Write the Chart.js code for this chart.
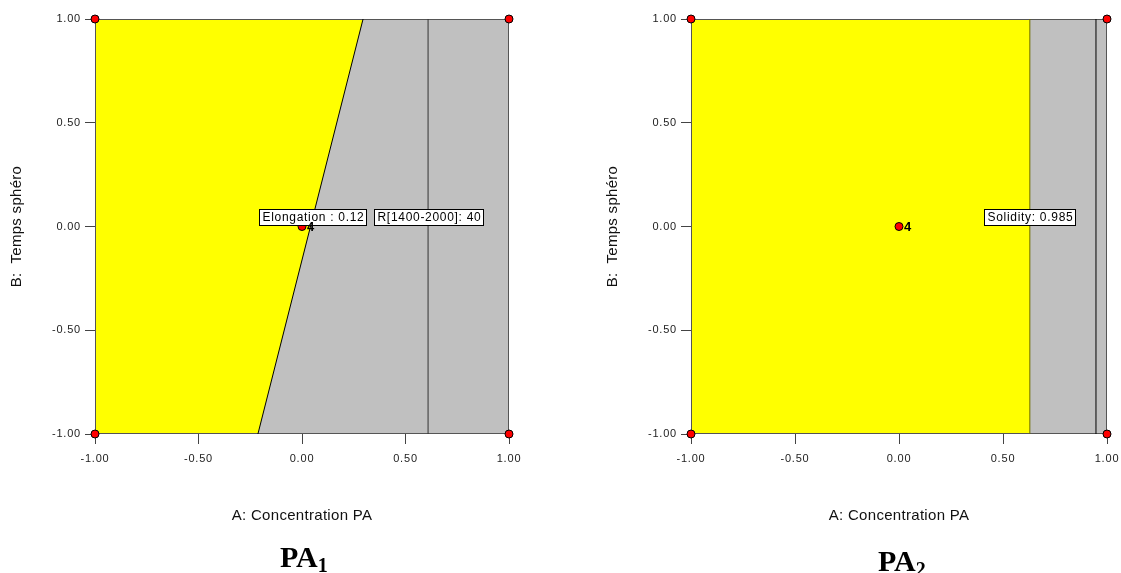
<!DOCTYPE html>
<html>
<head>
<meta charset="utf-8">
<script src="https://cdn.jsdelivr.net/npm/chart.js@4.4.1/dist/chart.umd.min.js"></script>
<style>
  body { margin: 0; background: #fff; width: 1121px; height: 573px; position: relative; overflow: hidden; }
  .box { position: absolute; top: 0; height: 573px; }
  .cap { position: absolute; font-family: "Liberation Serif", "Times New Roman", serif; font-weight: bold; font-size: 30px; line-height: 30px; color: #000; }
  .cap sub { font-size: 20px; vertical-align: -5px; }
</style>
</head>
<body>
<div class="box" style="left:0;width:560px"><canvas id="pa1Chart"></canvas></div>
<div class="box" style="left:596px;width:525px"><canvas id="pa2Chart"></canvas></div>
<div class="cap" style="left:280px;top:542px">PA<sub>1</sub></div>
<div class="cap" style="left:878px;top:546px">PA<sub>2</sub></div>
<script>
// shared design
const xTicks = [-1, -0.5, 0, 0.5, 1];
const yTicks = [-1, -0.5, 0, 0.5, 1];
const designX = [-1, -1, 1, 1, 0];
const designY = [-1, 1, -1, 1, 0];
const centerLabel = "4";

// PA1 contours
const pa1EdgeX = [-0.213, 0.295];
const pa1EdgeY = [-1, 1];
const pa1LineX = [0.609, 0.609];
const pa1LabelText = ["Elongation : 0.12", "R[1400-2000]: 40"];
const pa1LabelX = [0.05, 0.609];
const pa1LabelY = [0.047, 0.047];

// PA2 contours
const pa2EdgeX = [0.629, 0.629];
const pa2LineX = [0.947, 0.947];
const pa2LabelText = ["Solidity: 0.985"];
const pa2LabelX = [0.629];
const pa2LabelY = [0.045];

const FONT = "'Liberation Sans', Arial, sans-serif";

function pts(xs, ys) {
  return xs.map((v, i) => ({ x: v, y: ys[i] }));
}

function axes() {
  return {
    x: {
      type: "linear", min: -1, max: 1,
      afterBuildTicks: s => { s.ticks = xTicks.map(v => ({ value: v })); },
      // fixed height, and let the end labels hang over the padding
      afterFit: s => { s.height = 91; s.paddingLeft = 0; s.paddingRight = 0; },
      grid: { drawOnChartArea: false, tickLength: 10, color: "#444" },
      border: { display: false },
      ticks: { z: 1, autoSkip: false, maxRotation: 0, padding: 8, color: "#222", font: { family: FONT, size: 11 }, callback: v => v.toFixed(2) },
      title: { display: true, text: "A: Concentration PA", color: "#111", font: { family: FONT, size: 15 }, padding: 0 }
    },
    y: {
      type: "linear", min: -1, max: 1,
      afterBuildTicks: s => { s.ticks = yTicks.map(v => ({ value: v })); },
      afterFit: s => { s.width = 87; },
      grid: { drawOnChartArea: false, tickLength: 10, color: "#444" },
      border: { display: false },
      ticks: { z: 1, autoSkip: false, padding: 4, color: "#222", font: { family: FONT, size: 11 }, callback: v => v.toFixed(2) },
      title: { display: true, text: "B:  Temps sphéro", color: "#111", font: { family: FONT, size: 15 }, padding: 0 }
    }
  };
}

// frame after the region fills, labels on top of everything.
// the old plot program spaces its letters a little: titles are drawn with the grid,
// tick labels (z: 1) after this plugin's afterDatasetsDraw
const decor = {
  id: "decor",
  beforeLayout(chart) { chart.ctx.letterSpacing = "1px"; },
  beforeDraw(chart) { chart.ctx.letterSpacing = "0.3px"; },
  afterDatasetDraw(chart, args) {
    if (args.index !== 1) return;
    const { ctx, chartArea: a } = chart;
    ctx.save();
    ctx.strokeStyle = "#555";
    ctx.lineWidth = 1;
    ctx.strokeRect(a.left + 0.5, a.top + 0.5, a.right - a.left - 1, a.bottom - a.top - 1);
    ctx.restore();
  },
  afterDatasetsDraw(chart) {
    const { ctx, scales: { x, y } } = chart;
    const o = chart.options.plugins.decor;
    ctx.save();
    ctx.letterSpacing = "0.7px";
    ctx.font = "12px " + FONT;
    ctx.textBaseline = "middle";
    o.texts.forEach((t, i) => {
      const w = Math.round(ctx.measureText(t).width + 5);
      const cx = x.getPixelForValue(o.xs[i]);
      const cy = y.getPixelForValue(o.ys[i]);
      const l = Math.round(cx - w / 2) + 0.5;
      const tp = Math.round(cy - 8) + 0.5;
      ctx.fillStyle = "#fff";
      ctx.fillRect(l, tp, w, 16);
      ctx.strokeStyle = "#000";
      ctx.strokeRect(l, tp, w, 16);
      ctx.fillStyle = "#000";
      ctx.textAlign = "left";
      ctx.fillText(t, l + 3, cy + 1);
    });
    // run count next to the centre point
    ctx.font = "bold 13px " + FONT;
    ctx.fillText(centerLabel, x.getPixelForValue(0) + 5, y.getPixelForValue(0) + 1);
    ctx.restore();
    ctx.letterSpacing = "0.8px";
  }
};

function makeChart(id, grey, lines, lineColors, labels, padRight) {
  const datasets = [
    { data: pts(designX, designY), showLine: false, pointRadius: 4, pointBackgroundColor: "#ff0000", pointBorderColor: "#000", pointBorderWidth: 1, clip: false, order: 0 },
    { data: grey, showLine: true, fill: "start", backgroundColor: "#c0c0c0", borderWidth: 0, pointRadius: 0, order: 2 },
    { data: pts([-1, 1], [1, 1]), showLine: true, fill: "start", backgroundColor: "#ffff00", borderWidth: 0, pointRadius: 0, order: 3 }
  ];
  lines.forEach((l, i) => datasets.push({ data: l, showLine: true, borderColor: lineColors[i], borderWidth: 1, pointRadius: 0, order: 1 }));
  return new Chart(document.getElementById(id), {
    type: "scatter",
    data: { datasets },
    plugins: [decor],
    options: {
      responsive: true,
      maintainAspectRatio: false,
      animation: false,
      layout: { padding: { left: 8, right: padRight, top: 19, bottom: 48 } },
      scales: axes(),
      plugins: { legend: { display: false }, tooltip: { enabled: false }, decor: labels }
    }
  });
}

makeChart("pa1Chart",
  pts([pa1EdgeX[0], pa1EdgeX[1], 1], [pa1EdgeY[0], pa1EdgeY[1], 1]),
  [pts(pa1EdgeX, pa1EdgeY), pts(pa1LineX, [-1, 1])],
  ["#000", "#333"],
  { texts: pa1LabelText, xs: pa1LabelX, ys: pa1LabelY },
  51);

makeChart("pa2Chart",
  pts([pa2EdgeX[0], pa2EdgeX[1], 1], [-1, 1, 1]),
  [pts(pa2EdgeX, [-1, 1]), pts(pa2LineX, [-1, 1])],
  ["#6b6b00", "#000"],
  { texts: pa2LabelText, xs: pa2LabelX, ys: pa2LabelY },
  14);
</script>
</body>
</html>
